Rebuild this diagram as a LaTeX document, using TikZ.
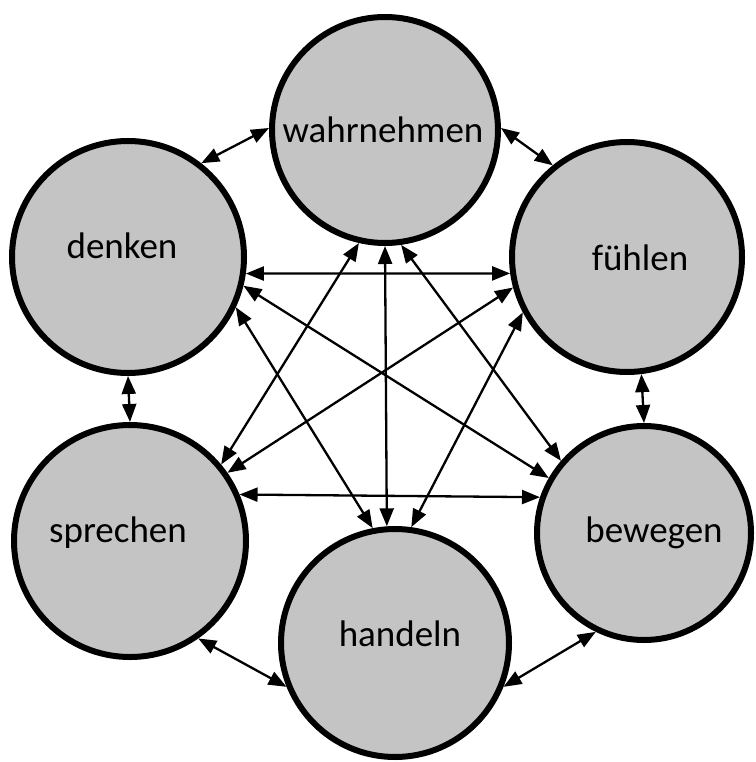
\documentclass[tikz,border=0pt]{standalone}
\usepackage{fontspec}
\setmainfont{Carlito}
\usetikzlibrary{arrows.meta}
\definecolor{circfill}{RGB}{196,196,196}
\begin{document}
\begin{tikzpicture}[x=1pt,y=-1pt,
  bubble/.style={circle,draw=black,line width=6pt,fill=circfill,inner sep=0pt,outer sep=3pt},
  lbl/.style={font=\fontsize{37}{44}\selectfont,anchor=base,inner sep=0pt},
  link/.style={line width=2.3pt,{Triangle[length=18pt,width=14pt]}-{Triangle[length=18pt,width=14pt]}}]
\useasboundingbox (0,0) rectangle (755,762);
% circles
\node[bubble,minimum size=226pt] (w) at (385,130) {};
\node[bubble,minimum size=232pt] (d) at (128,257) {};
\node[bubble,minimum size=230pt] (f) at (627,257) {};
\node[bubble,minimum size=232pt] (s) at (130,541) {};
\node[bubble,minimum size=214pt] (b) at (644,533) {};
\node[bubble,minimum size=228pt] (h) at (395,643) {};
% labels
\node[lbl] (wt) at (383,143) {wahrnehmen};
\node[lbl] (dt) at (122,258) {denken};
\node[lbl] (ft) at (640,270) {fühlen};
\node[lbl] (st) at (118,542) {sprechen};
\node[lbl] (bt) at (654,542) {bewegen};
\node[lbl] (ht) at (400,646) {handeln};
% outer ring
\draw[link] (d.52) -- (w.179);
\draw[link] (w.1) -- (f.129);
\draw[link] (d.-90) -- (s.90);
\draw[link] (f.-83) -- (b.90);
\draw[link] (s.-55) -- (h.202);
\draw[link] (h.-22) -- (b.244);
% horizontals
\draw[link] (d.-8) -- (f.188);
\draw[link] (s.23) -- (b.161);
% crossing links
\draw[link] (w.-90) -- (h.94);
\draw[link] (d.-14.5) -- (b.150);
\draw[link] (d.-25) -- (h.101.5);
\draw[link] (f.195) -- (s.35);
\draw[link] (f.208) -- (h.82);
\draw[link] (w.257) -- (s.40);
\draw[link] (w.278.5) -- (b.139.5);
\end{tikzpicture}
\end{document}
